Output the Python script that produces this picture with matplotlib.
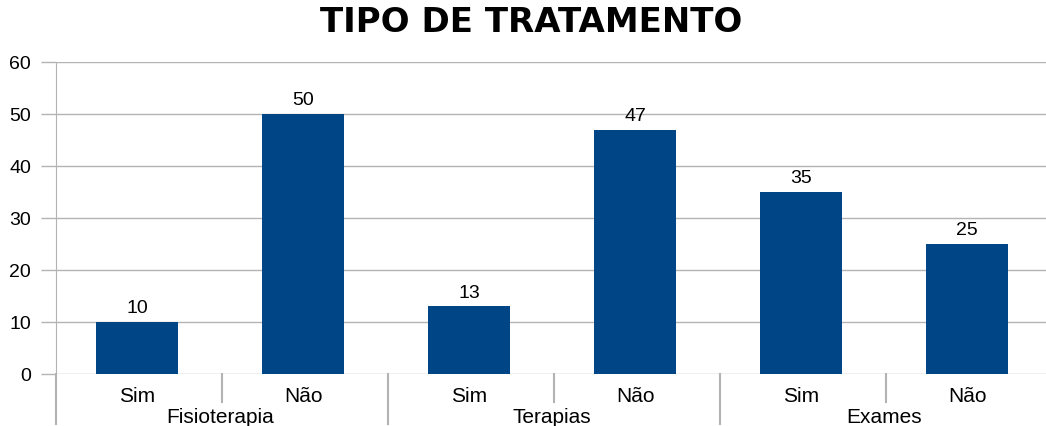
import matplotlib.pyplot as plt
import matplotlib.transforms as mtransforms

plt.rcParams['font.family'] = ['Liberation Sans', 'DejaVu Sans']

# data
groups = ['Fisioterapia', 'Terapias', 'Exames']
answers = ['Sim', 'Não', 'Sim', 'Não', 'Sim', 'Não']
values = [10, 50, 13, 47, 35, 25]

bar_color = '#004586'
grid_color = '#b3b3b3'

fig = plt.figure(figsize=(10.46, 4.27), dpi=100)
ax = fig.add_axes([56 / 1046, 52 / 427, 996 / 1046, 312 / 427])

x = list(range(len(values)))
bars = ax.bar(x, values, width=0.49, color=bar_color, zorder=3)

for xi, v in zip(x, values):
    ax.annotate(str(v), (xi, v), xytext=(0, 4), textcoords='offset points',
                ha='center', va='bottom', fontsize=14)

ax.set_xlim(-0.488, len(values) - 0.488)
ax.set_ylim(0, 60)
ax.set_yticks(range(0, 61, 10))
ax.yaxis.grid(True, color=grid_color, linewidth=1, zorder=0)
ax.tick_params(axis='y', length=11, width=1, color=grid_color, labelsize=14, pad=7)
ax.set_xticks([])
for s in ['top', 'right', 'bottom']:
    ax.spines[s].set_visible(False)
ax.spines['left'].set_color(grid_color)

# hierarchical x axis
trans = mtransforms.blended_transform_factory(ax.transData, ax.transAxes)
px = 1 / 312  # one pixel in axes fraction (vertical)
for xi, lab in zip(x, answers):
    ax.text(xi, -22 * px, lab, transform=trans, ha='center', va='center', fontsize=15)
for gi, g in enumerate(groups):
    ax.text(gi * 2 + 0.5, -43 * px, g, transform=trans, ha='center', va='center', fontsize=15)

for b in [0.51, 1.51, 2.51, 3.51, 4.51]:
    long = round(b - 0.51) % 2 == 1
    ax.plot([b, b], [0, -(50 if long else 28) * px], transform=trans,
            color=grid_color, linewidth=1.5, clip_on=False)
ax.plot([0, 0], [0, -50 * px], transform=ax.transAxes,
        color=grid_color, linewidth=1.5, clip_on=False)

fig.text(531 / 1046, 1 - 23 / 427, 'TIPO DE TRATAMENTO', ha='center', va='center',
         fontsize=24.5, fontweight='bold', family='DejaVu Sans')

fig.savefig('out.png', dpi=100)
